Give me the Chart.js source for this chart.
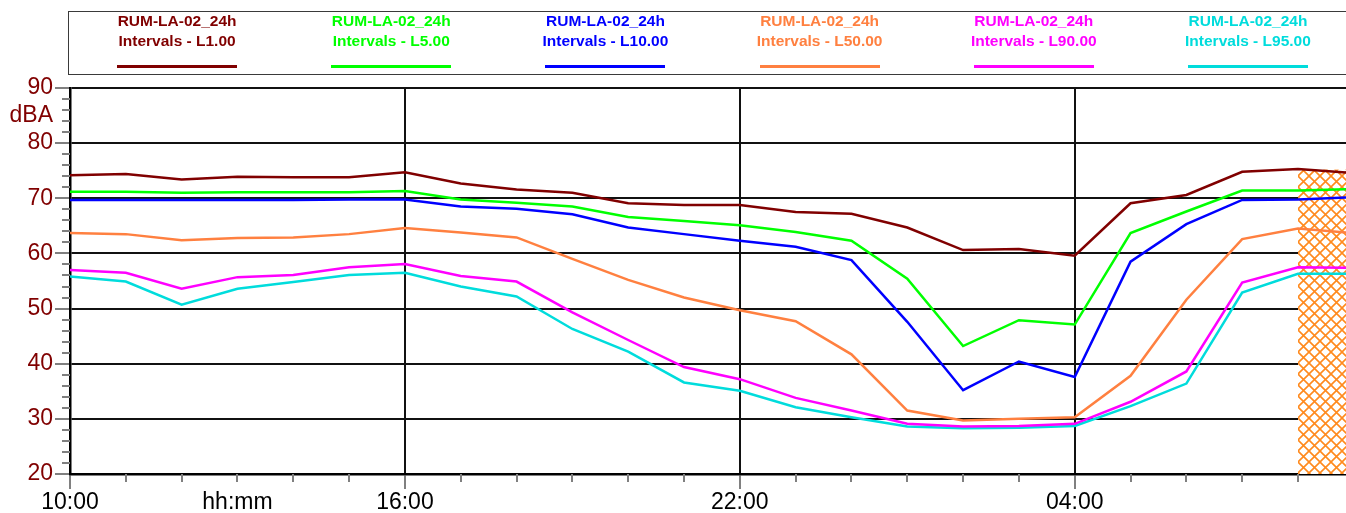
<!DOCTYPE html>
<html>
<head>
<meta charset="utf-8">
<script src="https://cdn.jsdelivr.net/npm/chart.js@4.4.1/dist/chart.umd.min.js"></script>
<style>
  html, body { margin:0; padding:0; background:#fff; overflow:hidden; }
  #wrap { position:relative; width:1346px; height:513px; }
  #chartBox { position:absolute; left:0; top:0; width:1346px; height:513px; }
  #legendBorder { position:absolute; left:68px; top:11px; width:1400px; height:62px;
    border:1.5px solid #3a3a3a; box-sizing:content-box; }
  #legend { position:absolute; left:70px; top:11px; width:1285px; height:62px; display:flex; }
  .item { flex:1 1 0; position:relative; text-align:center;
    font-family:"Liberation Sans", Arial, sans-serif; font-weight:bold; font-size:15.5px; line-height:20px; }
  .item .txt { position:absolute; left:0; right:0; top:0; white-space:nowrap; }
  .item .ln { position:absolute; left:50%; width:120px; margin-left:-60px; top:54px; height:2.5px; }
</style>
</head>
<body>
<div id="wrap">
  <div id="chartBox"><canvas id="c"></canvas></div>
  <div id="legendBorder"></div>
  <div id="legend"></div>
</div>
<script>
// ---- data ----
const times = ['10:00','11:00','12:00','13:00','14:00','15:00','16:00','17:00','18:00','19:00','20:00','21:00',
               '22:00','23:00','00:00','01:00','02:00','03:00','04:00','05:00','06:00','07:00','08:00','09:00'];
const L1  = [74.2,74.4,73.4,73.9,73.8,73.8,74.7,72.7,71.6,71.0,69.1,68.8,68.8,67.5,67.2,64.7,60.6,60.8,59.6,69.1,70.6,74.8,75.3,74.6];
const L5  = [71.2,71.2,71.0,71.1,71.1,71.1,71.3,69.8,69.2,68.5,66.6,65.9,65.1,63.9,62.3,55.4,43.2,47.9,47.1,63.7,67.6,71.4,71.4,71.7];
const L10 = [69.7,69.7,69.7,69.7,69.7,69.8,69.8,68.5,68.1,67.1,64.7,63.5,62.3,61.2,58.8,47.6,35.2,40.4,37.6,58.5,65.3,69.7,69.8,70.2];
const L50 = [63.7,63.5,62.4,62.8,62.9,63.5,64.6,63.8,62.9,59.0,55.2,52.0,49.7,47.7,41.7,31.5,29.7,30.0,30.3,37.8,51.6,62.6,64.5,63.7];
const L90 = [57.0,56.5,53.6,55.7,56.1,57.5,58.1,55.9,54.9,49.3,44.3,39.4,37.2,33.8,31.5,29.1,28.6,28.7,29.1,33.1,38.6,54.7,57.5,57.4];
const L95 = [55.8,54.9,50.7,53.6,54.8,56.1,56.5,54.0,52.2,46.3,42.2,36.6,35.1,32.1,30.3,28.6,28.3,28.4,28.7,32.3,36.4,52.9,56.3,56.3];

const seriesNames = ['RUM-LA-02_24h\nIntervals - L1.00','RUM-LA-02_24h\nIntervals - L5.00','RUM-LA-02_24h\nIntervals - L10.00',
                     'RUM-LA-02_24h\nIntervals - L50.00','RUM-LA-02_24h\nIntervals - L90.00','RUM-LA-02_24h\nIntervals - L95.00'];
const seriesValues = [L1, L5, L10, L50, L90, L95];
const seriesColors = ['#800000','#00FF00','#0000FF','#FF8040','#FF00FF','#00DCDC'];

const xTickPositions = [0, 3, 6, 12, 18];
const xTickLabels = ['10:00','hh:mm','16:00','22:00','04:00'];
const xSpanHours = 22.86;
const yMin = 20, yMax = 90, yMajorStep = 10, yMinorStep = 2;
const yUnitLabel = 'dBA', yUnitPos = 85;
const hatchFrom = '08:00', hatchTop = 75.2;

// ---- legend (HTML) ----
const legendEl = document.getElementById('legend');
seriesNames.forEach((name, i) => {
  const it = document.createElement('div'); it.className = 'item'; it.style.color = seriesColors[i];
  const t = document.createElement('div'); t.className = 'txt';
  name.split('\n').forEach(line => { const d = document.createElement('div'); d.textContent = line; t.appendChild(d); });
  const l = document.createElement('div'); l.className = 'ln'; l.style.background = seriesColors[i];
  it.appendChild(t); it.appendChild(l); legendEl.appendChild(it);
});

// ---- hatch pattern ----
function makeHatch() {
  const s = 11, pc = document.createElement('canvas'); pc.width = s; pc.height = s;
  const g = pc.getContext('2d');
  g.fillStyle = '#fff'; g.fillRect(0,0,s,s);
  g.strokeStyle = '#FF8A1E'; g.lineWidth = 1.6;
  g.beginPath(); g.moveTo(-1,-1); g.lineTo(s+1,s+1); g.moveTo(s+1,-1); g.lineTo(-1,s+1); g.stroke();
  return pc;
}
const hatchCanvas = makeHatch();

const extras = {
  id: 'extras',
  beforeDatasetsDraw(chart) {
    const {ctx, chartArea, scales:{x, y}} = chart;
    const xi = times.indexOf(hatchFrom);
    const x0 = x.getPixelForValue(xi), x1 = chartArea.right;
    const yt = y.getPixelForValue(hatchTop), yb = y.getPixelForValue(yMin);
    ctx.save();
    ctx.fillStyle = ctx.createPattern(hatchCanvas, 'repeat');
    ctx.fillRect(x0, yt, x1 - x0, yb - yt);
    ctx.restore();
  },
  afterDraw(chart) {
    const {ctx, chartArea, scales:{x, y}} = chart;
    ctx.save();
    ctx.strokeStyle = '#808080'; ctx.lineWidth = 2;
    ctx.beginPath();
    for (let v = yMin; v <= yMax; v += yMinorStep) {
      if (v % yMajorStep === 0) continue;
      const py = Math.round(y.getPixelForValue(v));
      ctx.moveTo(chartArea.left - 8, py); ctx.lineTo(chartArea.left, py);
    }
    for (let h = 1; h < xSpanHours; h++) {
      if (h % 6 === 0) continue;
      const px = Math.round(x.getPixelForValue(h));
      ctx.moveTo(px, chartArea.bottom); ctx.lineTo(px, chartArea.bottom + 8);
    }
    ctx.stroke();
    ctx.restore();
  }
};

const FONT = '"Liberation Sans", Arial, sans-serif';
new Chart(document.getElementById('c'), {
  type: 'line',
  data: {
    datasets: seriesValues.map((vals, i) => ({
      label: seriesNames[i].replace('\n',' '),
      data: vals.map((v, k) => ({x: k, y: v})),
      borderColor: seriesColors[i],
      backgroundColor: seriesColors[i],
      borderWidth: 2.5,
      pointRadius: 0,
      tension: 0,
      fill: false
    }))
  },
  options: {
    responsive: true, maintainAspectRatio: false, animation: false,
    layout: { padding: { top: 88, left: 0, right: 0, bottom: 0 } },
    plugins: { legend: { display: false }, tooltip: { enabled: false } },
    scales: {
      x: {
        type: 'linear', min: 0, max: xSpanHours,
        afterFit(s) { s.height = 39; },
        border: { display: true, color: '#000', width: 2.5 },
        grid: {
          color: c => (c.tick && c.tick.value % 6 === 0 && c.tick.value > 0) ? '#111' : 'rgba(0,0,0,0)',
          lineWidth: 2,
          tickLength: 15,
          tickColor: c => (c.tick && c.tick.value % 6 === 0) ? '#808080' : 'rgba(0,0,0,0)',
          tickWidth: 2
        },
        ticks: {
          stepSize: 1, autoSkip: false, includeBounds: false, maxRotation: 0, minRotation: 0,
          padding: 0,
          color: '#000',
          font: { family: FONT, size: 23 },
          callback: v => { const k = xTickPositions.indexOf(v); return k >= 0 ? xTickLabels[k] : ''; }
        }
      },
      y: {
        type: 'linear', min: yMin, max: yMax,
        afterFit(s) { s.width = 70; },
        border: { display: true, color: '#000', width: 2.5 },
        grid: {
          color: c => (c.tick && c.tick.value % yMajorStep === 0) ? '#111' : 'rgba(0,0,0,0)',
          lineWidth: 2,
          tickLength: 15,
          tickColor: c => (c.tick && c.tick.value % yMajorStep === 0) ? '#808080' : 'rgba(0,0,0,0)',
          tickWidth: 2
        },
        ticks: {
          stepSize: 1, autoSkip: false, includeBounds: false,
          padding: 2,
          color: '#800000',
          font: { family: FONT, size: 23 },
          callback: v => (v % yMajorStep === 0) ? String(v) : (v === yUnitPos ? yUnitLabel : '')
        }
      }
    }
  },
  plugins: [extras]
});
</script>
</body>
</html>
